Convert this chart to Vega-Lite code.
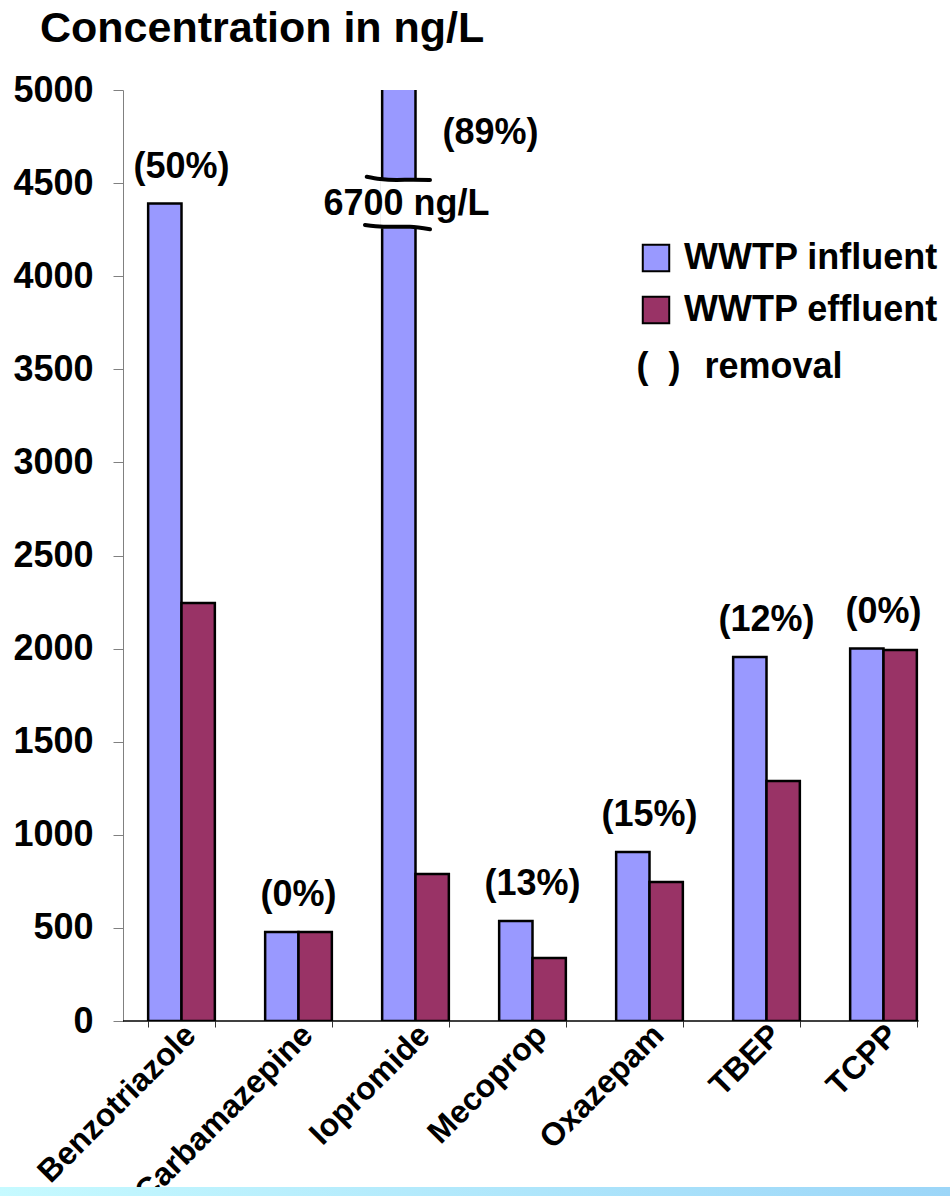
{
  "$schema": "https://vega.github.io/schema/vega-lite/v6.json",
  "width": 819,
  "height": 931,
  "autosize": "none",
  "padding": {"left": 123, "top": 90, "right": 8, "bottom": 175},
  "background": "white",
  "config": {
    "font": "Liberation Sans",
    "view": {"stroke": null},
    "text": {"font": "Liberation Sans", "fontWeight": "bold", "fontSize": 36, "color": "black"}
  },
  "title": {
    "text": "Concentration in ng/L",
    "anchor": "start",
    "frame": "group",
    "orient": "top",
    "fontSize": 43,
    "fontWeight": "bold",
    "font": "Liberation Sans",
    "color": "black",
    "baseline": "alphabetic",
    "offset": 0,
    "dx": -83,
    "dy": 13
  },
  "datasets": {
    "conc": [
      {"compound": "Benzotriazole", "series": "WWTP influent", "value": 4390, "removal": "(50%)"},
      {"compound": "Benzotriazole", "series": "WWTP effluent", "value": 2245, "removal": "(50%)"},
      {"compound": "Carbamazepine", "series": "WWTP influent", "value": 478, "removal": "(0%)"},
      {"compound": "Carbamazepine", "series": "WWTP effluent", "value": 478, "removal": "(0%)"},
      {"compound": "Iopromide", "series": "WWTP influent", "value": 6700, "removal": "(89%)"},
      {"compound": "Iopromide", "series": "WWTP effluent", "value": 790, "removal": "(89%)"},
      {"compound": "Mecoprop", "series": "WWTP influent", "value": 537, "removal": "(13%)"},
      {"compound": "Mecoprop", "series": "WWTP effluent", "value": 338, "removal": "(13%)"},
      {"compound": "Oxazepam", "series": "WWTP influent", "value": 908, "removal": "(15%)"},
      {"compound": "Oxazepam", "series": "WWTP effluent", "value": 746, "removal": "(15%)"},
      {"compound": "TBEP", "series": "WWTP influent", "value": 1955, "removal": "(12%)"},
      {"compound": "TBEP", "series": "WWTP effluent", "value": 1289, "removal": "(12%)"},
      {"compound": "TCPP", "series": "WWTP influent", "value": 2000, "removal": "(0%)"},
      {"compound": "TCPP", "series": "WWTP effluent", "value": 1992, "removal": "(0%)"}
    ],
    "breakmarks": [
      {"line": "upper", "pos": 2.083, "level": 4534},
      {"line": "upper", "pos": 2.197, "level": 4522},
      {"line": "upper", "pos": 2.339, "level": 4517},
      {"line": "upper", "pos": 2.479, "level": 4518},
      {"line": "upper", "pos": 2.624, "level": 4517},
      {"line": "lower", "pos": 2.068, "level": 4275},
      {"line": "lower", "pos": 2.225, "level": 4266},
      {"line": "lower", "pos": 2.453, "level": 4266},
      {"line": "lower", "pos": 2.624, "level": 4252}
    ]
  },
  "layer": [
    {
      "data": {"values": [{}]},
      "mark": {
        "type": "rect",
        "fill": {
          "gradient": "linear",
          "stops": [
            {"offset": 0, "color": "#C6FAFF"},
            {"offset": 1, "color": "#9CD6F8"}
          ]
        }
      },
      "encoding": {
        "x": {"datum": -1.06, "type": "quantitative", "scale": {"domain": [0, 7], "nice": false, "zero": false}, "axis": null},
        "x2": {"datum": 7.07},
        "y": {"datum": -892},
        "y2": {"datum": -960}
      }
    },
    {
      "data": {"name": "conc"},
      "layer": [
        {
          "mark": {"type": "bar", "stroke": "black", "strokeWidth": 2.5, "clip": true},
          "encoding": {
            "x": {
              "field": "compound",
              "type": "nominal",
              "sort": null,
              "scale": {"paddingInner": 0.43, "paddingOuter": 0.215},
              "axis": {
                "title": null,
                "labelAngle": -45,
                "labelFontSize": 32,
                "labelFontWeight": "bold",
                "labelColor": "black",
                "labelFont": "Liberation Sans",
                "labelLimit": 400,
                "labelOffset": -2,
                "domain": false,
                "tickBand": "extent",
                "tickColor": "#333333",
                "tickSize": 6,
                "labelPadding": -8
              }
            },
            "xOffset": {
              "field": "series",
              "type": "nominal",
              "scale": {"domain": ["WWTP influent", "WWTP effluent"], "paddingInner": 0}
            },
            "y": {
              "field": "value",
              "type": "quantitative",
              "scale": {"domain": [0, 5000], "nice": false},
              "axis": {
                "title": null,
                "values": [0, 500, 1000, 1500, 2000, 2500, 3000, 3500, 4000, 4500, 5000],
                "format": "d",
                "labelFontSize": 36,
                "labelFontWeight": "bold",
                "labelColor": "black",
                "labelFont": "Liberation Sans",
                "domainColor": "#808080",
                "tickColor": "#808080",
                "tickSize": 10,
                "labelPadding": 20,
                "grid": false
              }
            },
            "color": {
              "field": "series",
              "type": "nominal",
              "scale": {"domain": ["WWTP influent", "WWTP effluent"], "range": ["#9999FF", "#993366"]},
              "legend": {
                "title": null,
                "orient": "none",
                "legendX": 515,
                "legendY": 150,
                "padding": 0,
                "symbolType": "square",
                "symbolSize": 700,
                "symbolStrokeColor": "black",
                "symbolStrokeWidth": 2,
                "symbolOpacity": 1,
                "labelFontSize": 36,
                "labelFontWeight": "bold",
                "labelFont": "Liberation Sans",
                "labelColor": "black",
                "labelOffset": 10,
                "rowPadding": 16,
                "labelLimit": 400
              }
            }
          }
        },
        {
          "data": {"values": [{}]},
          "mark": {"type": "bar", "fill": "white", "stroke": "white", "strokeWidth": 3},
          "encoding": {
            "x": {"datum": "Iopromide"},
            "xOffset": {"datum": "WWTP influent"},
            "y": {"datum": 4266},
            "y2": {"datum": 4520}
          }
        },
        {
          "transform": [
            {"filter": "datum.series === 'WWTP influent' && datum.compound !== 'Iopromide'"}
          ],
          "mark": {"type": "text", "baseline": "middle", "dy": -37},
          "encoding": {
            "x": {"field": "compound", "type": "nominal", "sort": null},
            "y": {"field": "value", "type": "quantitative"},
            "text": {"field": "removal"}
          }
        },
        {
          "transform": [
            {"filter": "datum.series === 'WWTP influent' && datum.compound === 'Iopromide'"}
          ],
          "mark": {"type": "text", "baseline": "middle", "dx": 75},
          "encoding": {
            "x": {"field": "compound", "type": "nominal", "sort": null},
            "y": {"datum": 4769},
            "text": {"field": "removal"}
          }
        },
        {
          "transform": [
            {"filter": "datum.series === 'WWTP influent' && datum.compound === 'Iopromide'"},
            {"calculate": "datum.value + ' ng/L'", "as": "valueLabel"}
          ],
          "mark": {"type": "text", "baseline": "middle", "dx": -9},
          "encoding": {
            "x": {"field": "compound", "type": "nominal", "sort": null},
            "y": {"datum": 4388},
            "text": {"field": "valueLabel"}
          }
        },
        {
          "data": {"values": [{}]},
          "mark": {"type": "text", "baseline": "middle", "align": "left", "dx": -13},
          "encoding": {
            "x": {"datum": "Oxazepam"},
            "y": {"datum": 3512},
            "text": {"value": "(\u00a0\u00a0)"}
          }
        },
        {
          "data": {"values": [{}]},
          "mark": {"type": "text", "baseline": "middle", "align": "left", "dx": 55},
          "encoding": {
            "x": {"datum": "Oxazepam"},
            "y": {"datum": 3512},
            "text": {"value": "removal"}
          }
        }
      ]
    },
    {
      "layer": [
        {
          "data": {"name": "breakmarks"},
          "mark": {"type": "line", "color": "black", "strokeWidth": 4, "interpolate": "monotone", "strokeCap": "round"},
          "encoding": {
            "x": {"field": "pos", "type": "quantitative", "scale": {"domain": [0, 7], "nice": false, "zero": false}, "axis": null},
            "y": {"field": "level", "type": "quantitative"},
            "detail": {"field": "line"}
          }
        },
        {
          "data": {"values": [{}]},
          "mark": {"type": "rule", "color": "black", "strokeWidth": 1.5},
          "encoding": {
            "x": {"datum": 0},
            "x2": {"datum": 6.8},
            "y": {"datum": 0}
          }
        }
      ]
    }
  ],
  "resolve": {"scale": {"x": "independent"}}
}
